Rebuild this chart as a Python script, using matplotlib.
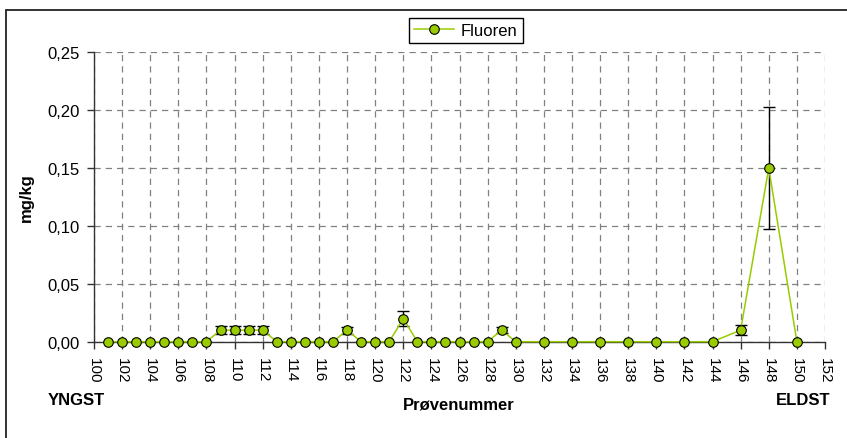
import numpy as np
import matplotlib
matplotlib.use("Agg")
import matplotlib.pyplot as plt
from matplotlib.patches import Rectangle
from matplotlib.ticker import FuncFormatter, MultipleLocator

plt.rcParams['font.family'] = ['Liberation Sans', 'DejaVu Sans']

# ---- data ----
sample_no = [101, 102, 103, 104, 105, 106, 107, 108, 109, 110,
             111, 112, 113, 114, 115, 116, 117, 118, 119, 120,
             121, 122, 123, 124, 125, 126, 127, 128, 129, 130,
             132, 134, 136, 138, 140, 142, 144, 146, 148, 150]
fluoren = [0.00, 0.00, 0.00, 0.00, 0.00, 0.00, 0.00, 0.00, 0.01, 0.01,
           0.01, 0.01, 0.00, 0.00, 0.00, 0.00, 0.00, 0.01, 0.00, 0.00,
           0.00, 0.02, 0.00, 0.00, 0.00, 0.00, 0.00, 0.00, 0.01, 0.00,
           0.00, 0.00, 0.00, 0.00, 0.00, 0.00, 0.00, 0.01, 0.15, 0.00]
fluoren_err = [0, 0, 0, 0, 0, 0, 0, 0, 0.0035, 0.0035,
               0.0035, 0.0035, 0, 0, 0, 0, 0, 0.003, 0, 0,
               0, 0.0065, 0, 0, 0, 0, 0, 0, 0.0025, 0,
               0, 0, 0, 0, 0, 0, 0, 0.004, 0.0525, 0]
series_name = "Fluoren"
y_label = "mg/kg"
x_label = "Prøvenummer"
left_note = "YNGST"
right_note = "ELDST"

W, H = 847, 439
fig = plt.figure(figsize=(W / 100, H / 100), dpi=100)

# outer chart frame (extends beyond right and bottom edges)
fig.patches.append(Rectangle((6 / W, -0.2), 1.2, 1.2 - 11 / H,
                             transform=fig.transFigure, fill=False,
                             edgecolor='#222222', linewidth=1.3))

ax = fig.add_axes([94 / W, 1 - 342.7 / H, (825 - 94) / W, (342.7 - 53.3) / H])

x = np.array(sample_no, dtype=float)
y = np.array(fluoren, dtype=float)
e = np.array(fluoren_err, dtype=float)
m = e > 0

green = '#99CC00'
ax.errorbar(x[m], y[m], yerr=e[m], fmt='none', ecolor='black',
            elinewidth=1.0, capsize=4.5, capthick=1.0, zorder=3, clip_on=False)
ax.plot(x, y, color=green, linewidth=1.1, marker='o', markersize=6.9,
        markerfacecolor=green, markeredgecolor='black', markeredgewidth=0.8,
        zorder=4, clip_on=False, label=series_name)

ax.set_xlim(100, 152)
ax.set_ylim(0, 0.25)
ax.xaxis.set_major_locator(MultipleLocator(2))
ax.yaxis.set_major_locator(MultipleLocator(0.05))
ax.yaxis.set_major_formatter(FuncFormatter(lambda v, p: f"{v:.2f}".replace('.', ',')))

for s in ['top', 'right']:
    ax.spines[s].set_visible(False)
for s in ['left', 'bottom']:
    ax.spines[s].set_color('#333333')
    ax.spines[s].set_linewidth(1.0)
    ax.spines[s].set_zorder(2.5)

ax.grid(True, color='#808080', linestyle=(0, (5, 4)), linewidth=0.9, zorder=1)
ax.set_axisbelow(True)

ax.tick_params(axis='y', direction='out', length=5, width=1, color='#333333',
               labelsize=12, pad=5)
ax.tick_params(axis='x', direction='out', length=5, width=1, color='#333333',
               labelsize=11, pad=6, labelrotation=270)

# legend
leg = fig.legend(loc='center', bbox_to_anchor=(466 / W, 1 - 31.5 / H),
                 fontsize=12, frameon=True, fancybox=False, edgecolor='black',
                 framealpha=1, handlelength=2.4, borderpad=0.3,
                 handletextpad=0.4, borderaxespad=0)
leg.get_frame().set_linewidth(1.0)

fig.text(26 / W, 1 - 198 / H, y_label, rotation=90, ha='center', va='center',
         fontsize=12, fontweight='bold')
fig.text(458.5 / W, 1 - 405 / H, x_label, ha='center', va='center',
         fontsize=12, fontweight='bold')
fig.text(48 / W, 1 - 401 / H, left_note, ha='left', va='center',
         fontsize=12, fontweight='bold')
fig.text(830 / W, 1 - 401 / H, right_note, ha='right', va='center',
         fontsize=12, fontweight='bold')

fig.savefig('out.png', dpi=100)
